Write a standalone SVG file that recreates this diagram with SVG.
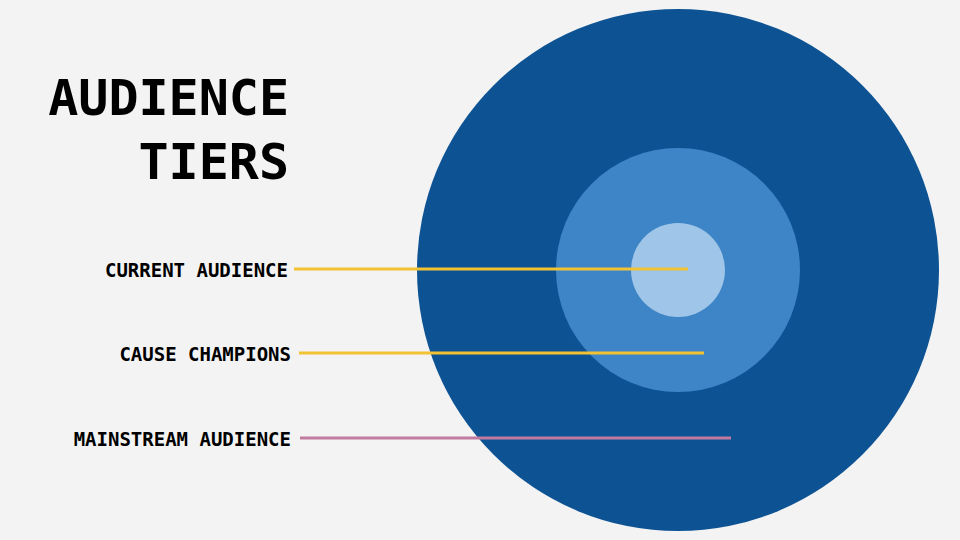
<svg xmlns="http://www.w3.org/2000/svg" width="960" height="540" viewBox="0 0 960 540">
<style>
.t{font-family:"DejaVu Sans Mono","Liberation Mono",monospace;font-weight:bold;fill:#000;text-anchor:end}
.l{font-size:19px}
.c{stroke-width:3;fill:none}
</style>
<rect width="960" height="540" fill="#f3f3f3"/>
<g id="outer"><circle cx="678" cy="270" r="261" fill="#0d5394"/></g>
<g id="middle"><circle cx="678" cy="270" r="122" fill="#3d85c6"/></g>
<g id="inner"><circle cx="678" cy="270" r="47" fill="#9fc5e8"/></g>
<g id="title"><text class="t" x="289" y="115" font-size="50">AUDIENCE</text><text class="t" x="289" y="179" font-size="50">TIERS</text></g>
<g id="label-current"><text class="t l" x="288" y="277">CURRENT AUDIENCE</text></g>
<g id="label-champions"><text class="t l" x="291" y="361">CAUSE CHAMPIONS</text></g>
<g id="label-mainstream"><text class="t l" x="291" y="446">MAINSTREAM AUDIENCE</text></g>
<g id="connectors">
<line class="c" x1="294" y1="269" x2="688" y2="269" stroke="#f1c232"/>
<line class="c" x1="299" y1="353" x2="704" y2="353" stroke="#f1c232"/>
<line class="c" x1="300" y1="438" x2="731" y2="438" stroke="#c27ba0"/>
</g>
</svg>
